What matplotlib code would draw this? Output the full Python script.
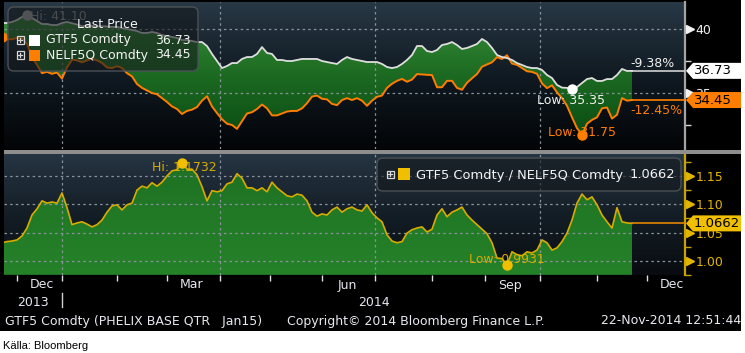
import numpy as np
import pandas as pd
import matplotlib
matplotlib.use("Agg")
import matplotlib.pyplot as plt
from matplotlib.patches import Rectangle, FancyBboxPatch, Polygon
from matplotlib.colors import LinearSegmentedColormap
import matplotlib.transforms as mtransforms

plt.rcParams['font.family'] = ['DejaVu Sans']

# ------------------------------------------------------------------ data
start_date = "2013-11-22"
last_date = "2014-11-21"
axis_end = "2014-12-31"
holidays = ["2013-12-24", "2013-12-25", "2013-12-26", "2013-12-31", "2014-01-01",
            "2014-04-18", "2014-04-21", "2014-05-01",
            "2014-12-24", "2014-12-25", "2014-12-26", "2014-12-31"]

# sampled every second trading day
gtf5 = [40.47, 40.47, 40.55, 40.70, 40.94, 41.10, 40.86, 40.63, 40.39, 40.39,
        40.31, 40.31, 40.47, 40.55, 40.45, 40.35, 40.22, 40.25, 40.25, 40.20,
        40.22, 40.20, 40.16, 40.16, 40.08, 40.00, 39.92, 39.84, 39.69, 39.69,
        39.77, 39.69, 39.53, 39.45, 39.38, 39.30, 39.14, 39.14, 39.06, 38.98,
        38.98, 38.67, 38.05, 37.50, 36.95, 37.11, 37.34, 37.34, 37.66, 37.81,
        37.81, 38.05, 38.59, 38.13, 38.05, 37.58, 37.58, 37.50, 37.50, 37.58,
        37.66, 37.66, 37.66, 37.66, 37.50, 37.42, 37.34, 37.27, 37.58, 37.81,
        37.66, 37.58, 37.50, 37.42, 37.42, 37.42, 37.27, 37.03, 36.95, 37.03,
        37.27, 37.58, 37.97, 38.67, 38.67, 38.28, 38.20, 38.36, 38.75, 38.83,
        38.98, 38.75, 38.44, 38.52, 38.67, 38.83, 39.22, 38.98, 38.52, 37.97,
        37.81, 37.73, 37.58, 37.34, 37.19, 37.03, 36.95, 36.95, 36.80, 36.41,
        36.17, 35.63, 35.42, 35.40, 35.35, 35.47, 35.78, 36.09, 36.17, 35.94,
        35.94, 36.09, 36.09, 36.41, 36.88, 36.72, 36.73]

nelf5q = [39.40, 39.20, 39.20, 39.30, 39.25, 38.85, 37.80, 37.20, 36.55, 36.65,
          36.50, 36.60, 36.13, 37.00, 37.60, 37.55, 37.40, 37.55, 37.70, 37.55,
          37.35, 37.00, 36.95, 37.10, 36.95, 36.55, 36.30, 35.70, 35.40, 35.20,
          35.00, 34.90, 34.60, 34.30, 33.95, 33.75, 33.36, 33.60, 33.70, 33.90,
          34.40, 34.75, 33.95, 33.43, 32.95, 32.60, 32.50, 32.20, 32.80, 33.40,
          33.50, 33.75, 34.10, 33.80, 33.25, 33.25, 33.40, 33.55, 33.60, 33.60,
          33.80, 34.20, 34.72, 34.80, 34.55, 34.50, 34.15, 34.05, 34.45, 34.60,
          34.45, 34.60, 34.40, 34.00, 34.40, 34.70, 34.80, 35.40, 35.72, 35.95,
          36.10, 35.88, 36.05, 36.48, 36.45, 36.42, 36.40, 35.45, 35.45, 35.95,
          35.95, 35.40, 35.25, 35.80, 36.15, 36.48, 37.05, 37.23, 37.40, 37.80,
          37.66, 37.95, 37.30, 37.20, 36.95, 36.70, 36.65, 36.50, 35.75, 35.38,
          35.60, 35.05, 34.60, 34.00, 33.10, 32.25, 31.75, 32.60, 32.90, 33.10,
          33.80, 33.87, 33.00, 33.30, 34.60, 34.40, 34.45]

ratio = [1.032, 1.034, 1.035, 1.037, 1.044, 1.058, 1.081, 1.092, 1.106, 1.102,
         1.104, 1.102, 1.120, 1.094, 1.064, 1.067, 1.069, 1.065, 1.060, 1.064,
         1.072, 1.086, 1.097, 1.099, 1.090, 1.099, 1.102, 1.125, 1.132, 1.129,
         1.138, 1.132, 1.139, 1.150, 1.159, 1.161, 1.1732, 1.162, 1.162, 1.152,
         1.131, 1.106, 1.124, 1.122, 1.124, 1.136, 1.139, 1.154, 1.146, 1.129,
         1.129, 1.124, 1.129, 1.122, 1.139, 1.129, 1.122, 1.115, 1.113, 1.118,
         1.116, 1.106, 1.086, 1.079, 1.083, 1.081, 1.090, 1.095, 1.086, 1.092,
         1.095, 1.090, 1.088, 1.099, 1.085, 1.076, 1.069, 1.046, 1.035, 1.032,
         1.034, 1.049, 1.055, 1.058, 1.060, 1.051, 1.056, 1.081, 1.092, 1.078,
         1.086, 1.090, 1.095, 1.081, 1.072, 1.064, 1.056, 1.048, 1.032, 1.005,
         1.004, 0.9931, 1.016, 1.011, 1.009, 1.016, 1.014, 1.019, 1.037, 1.032,
         1.019, 1.023, 1.034, 1.049, 1.072, 1.102, 1.118, 1.108, 1.113, 1.099,
         1.081, 1.069, 1.058, 1.094, 1.069, 1.067, 1.0662]

gtf5_name = "GTF5 Comdty"
nelf_name = "NELF5Q Comdty"
ratio_name = "GTF5 Comdty / NELF5Q Comdty"
gtf5_last, nelf_last, ratio_last = 36.73, 34.45, 1.0662
gtf5_chg, nelf_chg = "-9.38%", "-12.45%"
gtf5_hi_lbl, gtf5_lo_lbl = "Hi: 41.10", "Low: 35.35"
nelf_hi_lbl, nelf_lo_lbl = "Hi: 39.85", "Low: 31.75"
ratio_hi_lbl, ratio_lo_lbl = "Hi: 1.1732", "Low: 0.9931"
top_ticks = [35, 40]
top_minor = [32.5, 37.5]
bot_ticks = [1.00, 1.05, 1.10, 1.15]
bot_minor = [0.975, 1.025, 1.075, 1.125, 1.175]
month_labels = {"2013-12": "Dec", "2014-03": "Mar", "2014-06": "Jun",
                "2014-09": "Sep", "2014-12": "Dec"}
grid_months = ["2014-01", "2014-04", "2014-07", "2014-10"]
footer_left = "GTF5 Comdty (PHELIX BASE QTR   Jan15)"
footer_mid = "Copyright\u00a9 2014 Bloomberg Finance L.P."
footer_right = "22-Nov-2014 12:51:44"
source = "K\u00e4lla: Bloomberg"

# ------------------------------------------------------------------ trading-day axis
tdays = pd.bdate_range(start_date, axis_end).difference(pd.DatetimeIndex(holidays))
sample_days = tdays[tdays <= pd.Timestamp(last_date)][::2]
x = np.asarray(tdays.get_indexer(sample_days), dtype=float)
gtf5 = np.array(gtf5); nelf5q = np.array(nelf5q); ratio = np.array(ratio)
months = tdays.to_period("M")
first_idx = {}
for i, p in enumerate(months):
    first_idx.setdefault(str(p), i)
XMIN, XMAX = 0.8, 273.2
Y1 = (30.625, 42.11)
Y2 = (0.9753, 1.1888)

# ------------------------------------------------------------------ figure
W, H = 745, 353
fig = plt.figure(figsize=(W / 100, H / 100), dpi=100)
fig.patch.set_facecolor("white")


def F(px, py):
    return (px / W, 1 - py / H)


fig.add_artist(Rectangle(F(0, 331), 741 / W, 331 / H, transform=fig.transFigure,
                         facecolor="black", edgecolor="none", zorder=-10))

ax1 = fig.add_axes([4 / W, 1 - 149 / H, 681 / W, 147 / H])
ax2 = fig.add_axes([4 / W, 1 - 275 / H, 681 / W, 121 / H])

bg = np.linspace(0, 1, 256).reshape(-1, 1)
for ax, cols in ((ax1, ["#030507", "#101a22", "#283845"]),
                 (ax2, ["#080c10", "#141e26", "#263543"])):
    ax.set_facecolor("black")
    ax.imshow(bg, extent=(0, 1, 0, 1), transform=ax.transAxes, origin="lower",
              aspect="auto", cmap=LinearSegmentedColormap.from_list("bg", cols), zorder=0)
    for s in ("top", "left", "bottom"):
        ax.spines[s].set_visible(False)
    ax.tick_params(axis="x", which="both", length=0, labelbottom=False)
    ax.yaxis.tick_right()

# ---- top panel fill (gradient clipped to band between the two prices)
band = ax1.fill_between(x, gtf5, nelf5q, facecolor="none", edgecolor="none")
g1 = ax1.imshow(bg, extent=(XMIN, XMAX, Y1[0], Y1[1]), origin="lower", aspect="auto",
                cmap=LinearSegmentedColormap.from_list("g1", ["#07470f", "#1c6a22", "#3e943c"]),
                zorder=1)
g1.set_clip_path(band.get_paths()[0], transform=ax1.transData)

band2 = ax2.fill_between(x, ratio, Y2[0], facecolor="none", edgecolor="none")
g2 = ax2.imshow(bg, extent=(XMIN, XMAX, Y2[0], Y2[1]), origin="lower", aspect="auto",
                cmap=LinearSegmentedColormap.from_list("g2", ["#258229", "#1e7023"]),
                zorder=1)
g2.set_clip_path(band2.get_paths()[0], transform=ax2.transData)

for ax in (ax1, ax2):
    ax.set_xlim(XMIN, XMAX)
ax1.set_ylim(*Y1)
ax2.set_ylim(*Y2)

# ---- grid
gkw = dict(color="#8a939c", lw=0.9, ls=(0, (2, 2.5)), zorder=2)
for m in grid_months:
    ax1.axvline(first_idx[m], **gkw)
    ax2.axvline(first_idx[m], **gkw)
for v in top_ticks:
    ax1.axhline(v, **gkw)
for v in bot_ticks:
    ax2.axhline(v, **gkw)

# ---- lines
ax1.plot(x, nelf5q, color="#ff7d00", lw=1.4, zorder=4)
ax1.plot(x, gtf5, color="#dedede", lw=1.3, zorder=5)
ax2.plot(x, ratio, color="#d8ab00", lw=1.2, zorder=4)
ax1.plot([x[-1], XMAX], [gtf5_last, gtf5_last], color="#d0d0d0", lw=1.2, zorder=4)
ax1.plot([x[-1], XMAX], [nelf_last, nelf_last], color="#ff7d00", lw=1.2, zorder=4)
ax2.plot([x[-1], XMAX], [ratio_last, ratio_last], color="#e08600", lw=1.2, zorder=4)

# ---- hi / low markers and labels
fs = 9


def mark(ax, xi, yi, color, mcolor, label, dx, dy, ha):
    ax.annotate(label, xy=(xi, yi), xytext=(dx, dy), textcoords="offset pixels",
                color=color, fontsize=fs, ha=ha, va="center", zorder=6)
    ax.plot([xi], [yi], "o", ms=6.5, color=mcolor, zorder=7)


i = int(np.argmax(gtf5)); mark(ax1, x[i], gtf5[i], "#9a9a9a", "#a8a8a8", gtf5_hi_lbl, 3, -2, "left")
i = int(np.argmax(nelf5q)); mark(ax1, x[i], nelf5q[i], "#ff7d00", "#ff7d00", nelf_hi_lbl, 87, 12, "left")
i = int(np.argmin(gtf5)); mark(ax1, x[i], gtf5[i], "#f0f0f0", "#ffffff", gtf5_lo_lbl, -1, -12, "center")
i = int(np.argmin(nelf5q)); mark(ax1, x[i], nelf5q[i], "#ff7d00", "#ff7d00", nelf_lo_lbl, 0, 2, "center")
i = int(np.argmax(ratio)); mark(ax2, x[i], ratio[i], "#d8ab00", "#f0c000", ratio_hi_lbl, 2, -5, "center")
i = int(np.argmin(ratio)); mark(ax2, x[i], ratio[i], "#d8ab00", "#f0c000", ratio_lo_lbl, 0, 5, "center")

ax1.annotate(gtf5_chg, xy=(x[-1], gtf5_last), xytext=(-2, 7), textcoords="offset pixels",
             color="#f0f0f0", fontsize=fs, ha="left", va="center", zorder=6)
ax1.annotate(nelf_chg, xy=(x[-1], nelf_last), xytext=(-2, -10), textcoords="offset pixels",
             color="#ff7d00", fontsize=fs, ha="left", va="center", zorder=6)

# ---- right axes
ax1.spines["right"].set_color("#a4a4a4"); ax1.spines["right"].set_linewidth(1.6)
ax2.spines["right"].set_color("#c9a300"); ax2.spines["right"].set_linewidth(1.6)
ax1.set_yticks(top_ticks)
ax1.set_yticklabels([f"{v:g}" for v in top_ticks])
ax1.set_yticks(top_minor, minor=True)
ax1.tick_params(axis="y", which="major", length=0, pad=7.5, labelsize=9, labelcolor="#f2f2f2")
ax1.tick_params(axis="y", which="minor", length=4, width=1, color="#d8d8d8")
ax2.set_yticks(bot_ticks)
ax2.set_yticklabels([f"{v:.2f}" for v in bot_ticks])
ax2.set_yticks(bot_minor, minor=True)
ax2.tick_params(axis="y", which="major", length=0, pad=7.5, labelsize=9, labelcolor="#e2b600")
ax2.tick_params(axis="y", which="minor", length=4, width=1, color="#c9a300")
ax1.plot([275.2] * len(top_ticks), top_ticks, ls="none", marker=">", ms=6, color="#f2f2f2", clip_on=False, zorder=8)
ax2.plot([275.2] * len(bot_ticks), bot_ticks, ls="none", marker=">", ms=6, color="#e2b600", clip_on=False, zorder=8)

# ---- x axis (trading days, month ticks)
ax2.set_xticks(list(first_idx.values()))
ax2.tick_params(axis="x", which="major", length=4, width=1, color="#e0e0e0", direction="out")
ax2.set_xlim(XMIN, XMAX)
for m, lab in month_labels.items():
    ax2.annotate(lab, xy=(first_idx[m] + 10, 0), xycoords=("data", "axes fraction"),
                 xytext=(0, -10), textcoords="offset pixels", ha="center", va="center",
                 color="#e4e8ee", fontsize=9, annotation_clip=False)
jan = first_idx["2014-01"]
ax2.annotate("2013", xy=((XMIN + jan) / 2, 0), xycoords=("data", "axes fraction"),
             xytext=(0, -27), textcoords="offset pixels", ha="center", va="center",
             color="#e4e8ee", fontsize=9, annotation_clip=False)
ax2.annotate("2014", xy=((jan + XMAX) / 2, 0), xycoords=("data", "axes fraction"),
             xytext=(0, -27), textcoords="offset pixels", ha="center", va="center",
             color="#e4e8ee", fontsize=9, annotation_clip=False)
ax2.plot([jan, jan], [-0.15, -0.265], transform=mtransforms.blended_transform_factory(ax2.transData, ax2.transAxes),
         color="#d0d0d0", lw=1, clip_on=False)

# ---- separator band
fig.add_artist(Rectangle(F(4, 153.5), 737 / W, 4 / H, transform=fig.transFigure,
                         facecolor="#8e8e8e", edgecolor="none", zorder=5))


# ---- legends
def box(x0, y0, x1, y1):
    p = FancyBboxPatch(F(x0, y1), (x1 - x0) / W, (y1 - y0) / H,
                       boxstyle="round,pad=0,rounding_size=0.008", transform=fig.transFigure,
                       facecolor="#14181c", alpha=0.6, edgecolor="none", zorder=9,
                       mutation_aspect=W / H)
    fig.add_artist(p)
    p2 = FancyBboxPatch(F(x0, y1), (x1 - x0) / W, (y1 - y0) / H,
                        boxstyle="round,pad=0,rounding_size=0.008", transform=fig.transFigure,
                        facecolor="none", edgecolor="#4a5056", lw=1, zorder=9,
                        mutation_aspect=W / H)
    fig.add_artist(p2)


def plus_icon(cx, cy):
    fig.add_artist(Rectangle(F(cx - 3.5, cy + 3.5), 7 / W, 7 / H, transform=fig.transFigure,
                             facecolor="none", edgecolor="#d8d8d8", lw=0.9, zorder=10))
    fig.add_artist(plt.Line2D([(cx - 1.8) / W, (cx + 1.8) / W], [1 - cy / H] * 2,
                              transform=fig.transFigure, color="#d8d8d8", lw=0.9, zorder=10))
    fig.add_artist(plt.Line2D([cx / W] * 2, [1 - (cy - 1.8) / H, 1 - (cy + 1.8) / H],
                              transform=fig.transFigure, color="#d8d8d8", lw=0.9, zorder=10))


def swatch(x0, y0, s, color):
    fig.add_artist(Rectangle(F(x0, y0 + s), s / W, s / H, transform=fig.transFigure,
                             facecolor=color, edgecolor="none", zorder=10))


tkw = dict(color="#f4f4f4", fontsize=9, va="center", zorder=11)
box(8, 7, 198, 71)
fig.text(*F(107, 24), "Last Price", ha="center", **tkw)
for row_y, name, val, col in ((40, gtf5_name, gtf5_last, "#ffffff"),
                              (55, nelf_name, nelf_last, "#ff7d00")):
    plus_icon(20, row_y)
    swatch(29, row_y - 5.5, 11, col)
    fig.text(*F(46, row_y), name, ha="left", **tkw)
    fig.text(*F(191, row_y), f"{val:.2f}", ha="right", **tkw)

box(377, 158, 681, 191)
plus_icon(390, 174)
swatch(398, 168, 12, "#f0c000")
tkw2 = dict(tkw, fontsize=9.4)
fig.text(*F(416, 175), ratio_name, ha="left", **tkw2)
fig.text(*F(675, 175), f"{ratio_last:.4f}", ha="right", **tkw2)


# ---- value tags on right axis
def tag(ax, val, text, face):
    yd = ax.transData.transform((0, val))[1]
    py = H - yd
    pts = [F(686, py), F(693, py - 8), F(741, py - 8), F(741, py + 8), F(693, py + 8)]
    fig.add_artist(Polygon(pts, closed=True, transform=fig.transFigure, facecolor=face,
                           edgecolor="none", zorder=12))
    fig.text(*F(694, py), text, color="black", fontsize=9.5, ha="left", va="center", zorder=13)


tag(ax1, gtf5_last, f"{gtf5_last:.2f}", "#ffffff")
tag(ax1, nelf_last, f"{nelf_last:.2f}", "#ff7d00")
tag(ax2, ratio_last, f"{ratio_last:.4f}", "#f0c000")

# ---- footer
fkw = dict(color="#e6e9ee", fontsize=9, va="center")
fig.text(*F(5, 321), footer_left, ha="left", **fkw)
fig.text(*F(287, 321), footer_mid, ha="left", **fkw)
fig.text(*F(741, 321), footer_right, ha="right", **fkw)
fig.text(*F(3, 346), source, ha="left", va="center", color="black", fontsize=8,
         family=["Liberation Sans Narrow", "Liberation Sans", "DejaVu Sans"])

fig.savefig("out.png", dpi=100, facecolor="white")
